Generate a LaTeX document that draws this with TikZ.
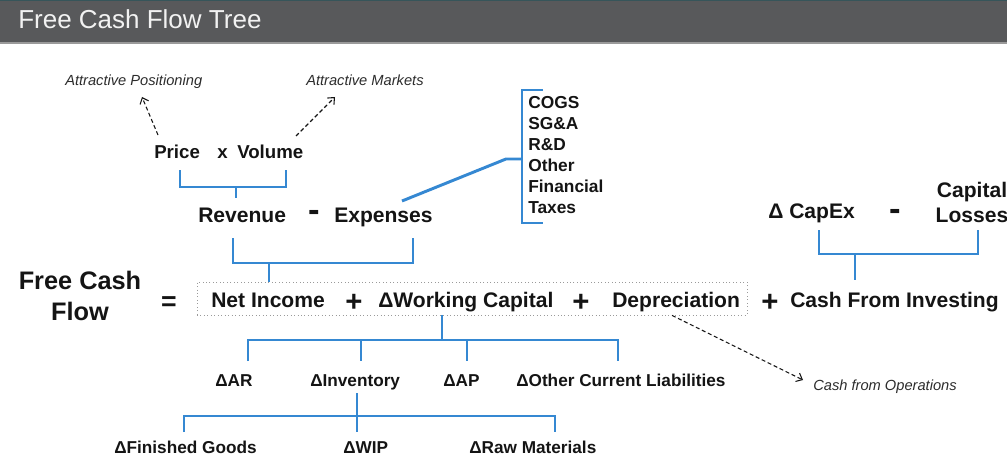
\documentclass[tikz,border=0pt]{standalone}
\usepackage{fontspec}
\setmainfont{Liberation Sans}
\usetikzlibrary{arrows.meta}
\definecolor{ink}{HTML}{141414}
\definecolor{bar}{HTML}{58595B}
\definecolor{barline}{HTML}{36555A}
\definecolor{brblue}{HTML}{3588D2}
\definecolor{boxgray}{HTML}{9A9A9A}
\tikzset{
  big/.style={font=\fontsize{15.8}{18}\selectfont\bfseries, inner sep=0pt, text=ink},
  mid/.style={font=\fontsize{14}{16}\selectfont\bfseries, inner sep=0pt, text=ink},
  sml/.style={font=\fontsize{12.9}{15}\selectfont\bfseries, inner sep=0pt, text=ink},
  ital/.style={font=\fontsize{11}{13}\selectfont\itshape, inner sep=0pt, text=ink!90},
  opsign/.style={font=\fontsize{20}{22}\selectfont\bfseries, inner sep=0pt, text=ink, anchor=base},
  plussign/.style={font=\fontsize{22}{24}\selectfont\bfseries, inner sep=0pt, text=ink, anchor=base},
  minussign/.style={font=\fontsize{26}{28}\selectfont\bfseries, inner sep=0pt, text=ink, anchor=base},
  br/.style={draw=brblue, line width=2.2pt},
  darr/.style={draw=ink, line width=0.8pt, dash pattern=on 3pt off 2pt, -{Straight Barb[length=4pt,width=7pt]}},
}
\begin{document}
\begin{tikzpicture}[x=0.75pt, y=-0.75pt]
\useasboundingbox (0,0) rectangle (1007,467);
% header
\fill[bar] (0,0) rectangle (1007,43);
\draw[barline, line width=1.2pt] (0,0.6) -- (1007,0.6);
\draw[boxgray, line width=0.8pt] (0,43) -- (1007,43);
\node[anchor=base west, inner sep=0pt, text=white!95!black, font=\fontsize{19.5}{22}\selectfont] (title) at (18,29) {Free Cash Flow Tree};

% top italic labels
\node[ital, anchor=base west] (pos) at (65,86) {Attractive Positioning};
\node[ital, anchor=base west] (mkt) at (306,86) {Attractive Markets};

% price x volume
\node[mid, anchor=base west] (price) at (154,158) {Price};
\node[mid, anchor=base west] (times) at (217,158) {x};
\node[mid, anchor=base west] (volume) at (237,158) {Volume};

% revenue - expenses
\node[big, anchor=base west] (revenue) at (198,222) {Revenue};
\node[minussign] (minus1) at (314,221) {-};
\node[big, anchor=base west] (expenses) at (334,222) {Expenses};

% expense list (base anchor = last line baseline)
\node[sml, anchor=base west, align=left, font=\fontsize{13}{15.75}\selectfont\bfseries] (list) at (528,213)
  {COGS\\SG\&A\\R\&D\\Other\\Financial\\Taxes};

% capex
\node[big, anchor=base west] (capex) at (768,218) {Δ CapEx};
\node[minussign] (minus2) at (895,220) {-};
\node[big, anchor=base, align=center, font=\fontsize{15.8}{18.75}\selectfont\bfseries] (caploss) at (972,222) {Capital\\Losses};

% main row
\node[big, anchor=base, align=center, font=\fontsize{19}{23.25}\selectfont\bfseries] (fcf) at (80,320) {Free Cash\\Flow};
\node[opsign] (eq) at (169,310) {=};
\node[draw=boxgray, dotted, line width=0.6pt, minimum width=412.5pt, minimum height=24.75pt, inner sep=0pt] (box) at (472,298.5) {};
\node[big, anchor=base west] (netinc) at (211,307) {Net Income};
\node[plussign] (plus1) at (354,311) {+};
\node[big, anchor=base west] (wc) at (378,307) {ΔWorking Capital};
\node[plussign] (plus2) at (581,311) {+};
\node[big, anchor=base west] (dep) at (612,307) {Depreciation};
\node[plussign] (plus3) at (770,311) {+};
\node[big, anchor=base west] (cfi) at (790,307) {Cash From Investing};

% working capital row
\node[sml, anchor=base west] (ar) at (215,386) {ΔAR};
\node[sml, anchor=base west] (inv) at (310,386) {ΔInventory};
\node[sml, anchor=base west] (ap) at (443,386) {ΔAP};
\node[sml, anchor=base west] (ocl) at (516,386) {ΔOther Current Liabilities};

% inventory row
\node[sml, anchor=base west] (fg) at (114,453) {ΔFinished Goods};
\node[sml, anchor=base west] (wip) at (343,453) {ΔWIP};
\node[sml, anchor=base west] (raw) at (469,453) {ΔRaw Materials};

% cash from operations
\node[ital, anchor=base west] (cfo) at (813,390) {Cash from Operations};

% dashed arrows
\coordinate (pA) at (158,135);
\coordinate (pB) at (142,97);
\coordinate (mA) at (296,136);
\coordinate (mB) at (335,97);
\coordinate (oX) at (672,0);
\coordinate (oB) at (803,380);
\draw[darr] (pA) -- (pB);
\draw[darr] (mA) -- (mB);
\draw[darr] (box.south -| oX) -- (oB);

% bracket price/volume
\coordinate (pvl) at (180,170);
\coordinate (pvr) at (286,170);
\coordinate (pvm) at (236,187);
\coordinate (pvs) at (236,198);
\draw[br] (pvl) |- (pvm) -| (pvr);
\draw[br] (pvm) -- (pvs);

% expenses link and list bracket
\coordinate (ex1) at (402,201);
\coordinate (ex2) at (506,159);
\coordinate (ex3) at (522,159);
\coordinate (lt) at (543,90);
\coordinate (lb) at (543,223);
\draw[br] (ex1) -- (ex2) -- (ex3);
\draw[br] (lt) -- (522,90) -- (522,223) -- (lb);

% bracket revenue/expenses
\coordinate (rel) at (233,238);
\coordinate (rer) at (413,238);
\coordinate (rem) at (269,263);
\draw[br] (rel) |- (rem) -| (rer);
\draw[br] (rem) -- (rem |- box.north);

% bracket capex/losses
\coordinate (cl) at (819,230);
\coordinate (cr) at (978,230);
\coordinate (cm) at (855,254);
\coordinate (cs) at (855,280);
\draw[br] (cl) |- (cm) -| (cr);
\draw[br] (cm) -- (cs);

% working capital tree
\coordinate (wm) at (442,340);
\draw[br] (wm |- box.south) -- (wm);
\draw[br] (248,361) |- (618,340) -- (618,361);
\draw[br] (361,340) -- (361,361);
\draw[br] (467,340) -- (467,361);

% inventory tree
\coordinate (im) at (357,416);
\draw[br] (357,393) -- (357,432);
\draw[br] (184,432) |- (555,416) -- (555,432);
\end{tikzpicture}
\end{document}
